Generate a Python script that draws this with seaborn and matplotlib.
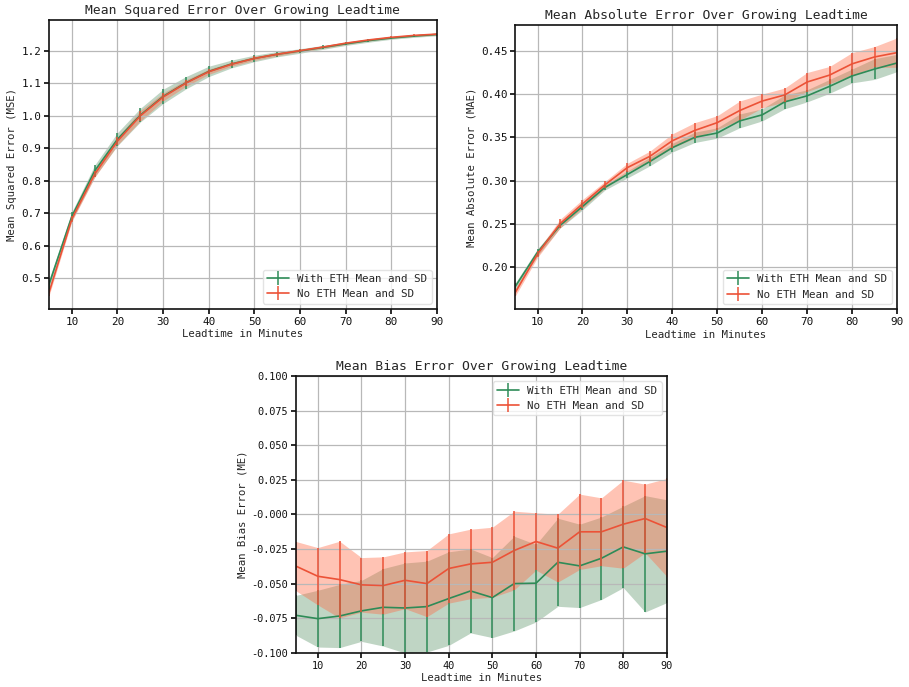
import numpy as np
import pandas as pd
import matplotlib
matplotlib.use("Agg")
import matplotlib.pyplot as plt
import seaborn as sns
from matplotlib.lines import Line2D
from matplotlib.ticker import FormatStrFormatter

leadtime = [5, 10, 15, 20, 25, 30, 35, 40, 45, 50, 55, 60, 65, 70, 75, 80, 85, 90]

mse_with_mean = [0.480, 0.690, 0.830, 0.928, 1.002, 1.060, 1.102, 1.137, 1.160, 1.177, 1.190, 1.200, 1.211, 1.222, 1.232, 1.240, 1.246, 1.251]
mse_with_sd = [0.015, 0.013, 0.018, 0.020, 0.021, 0.022, 0.019, 0.016, 0.012, 0.010, 0.008, 0.007, 0.006, 0.005, 0.005, 0.004, 0.004, 0.004]
mse_no_mean = [0.455, 0.682, 0.820, 0.922, 1.000, 1.058, 1.101, 1.136, 1.159, 1.177, 1.190, 1.201, 1.212, 1.224, 1.234, 1.242, 1.248, 1.252]
mse_no_sd = [0.010, 0.008, 0.010, 0.012, 0.016, 0.012, 0.010, 0.008, 0.006, 0.006, 0.005, 0.004, 0.004, 0.004, 0.003, 0.003, 0.003, 0.003]

mae_with_mean = [0.177, 0.217, 0.248, 0.270, 0.292, 0.307, 0.322, 0.338, 0.350, 0.355, 0.369, 0.376, 0.391, 0.398, 0.409, 0.421, 0.429, 0.436]
mae_with_sd = [0.004, 0.004, 0.003, 0.004, 0.003, 0.004, 0.005, 0.005, 0.006, 0.006, 0.008, 0.007, 0.008, 0.007, 0.008, 0.008, 0.012, 0.010]
mae_no_mean = [0.170, 0.215, 0.250, 0.273, 0.295, 0.315, 0.328, 0.346, 0.358, 0.367, 0.381, 0.392, 0.399, 0.414, 0.422, 0.435, 0.443, 0.448]
mae_no_sd = [0.004, 0.004, 0.005, 0.005, 0.004, 0.005, 0.006, 0.008, 0.009, 0.008, 0.011, 0.008, 0.008, 0.011, 0.010, 0.013, 0.012, 0.017]

me_with_mean = [-0.0728, -0.0752, -0.0733, -0.0696, -0.0670, -0.0675, -0.0665, -0.0607, -0.0552, -0.0600, -0.0499, -0.0496, -0.0345, -0.0371, -0.0316, -0.0234, -0.0284, -0.0265]
me_with_sd = [0.0144, 0.0205, 0.0228, 0.0220, 0.0280, 0.0325, 0.0328, 0.0338, 0.0303, 0.0289, 0.0342, 0.0280, 0.0318, 0.0301, 0.0298, 0.0294, 0.0420, 0.0371]
me_no_mean = [-0.0373, -0.0446, -0.0470, -0.0508, -0.0513, -0.0475, -0.0499, -0.0390, -0.0357, -0.0345, -0.0260, -0.0195, -0.0243, -0.0125, -0.0125, -0.0070, -0.0029, -0.0094]
me_no_sd = [0.0178, 0.0207, 0.0277, 0.0197, 0.0207, 0.0205, 0.0239, 0.0250, 0.0251, 0.0253, 0.0284, 0.0207, 0.0245, 0.0272, 0.0245, 0.0318, 0.0248, 0.0354]

labels = ["With ETH Mean and SD", "No ETH Mean and SD"]
titles = ["Mean Squared Error Over Growing Leadtime",
          "Mean Absolute Error Over Growing Leadtime",
          "Mean Bias Error Over Growing Leadtime"]
ylabels = ["Mean Squared Error (MSE)", "Mean Absolute Error (MAE)", "Mean Bias Error (ME)"]
xlabel = "Leadtime in Minutes"

GREEN = "#2e8b57"
RED = "#ec5237"
GREEN_FILL = "#3a7d4a"
RED_FILL = "#ff6a45"

sns.set_theme(style="whitegrid")
plt.rcParams.update({
    "font.family": ["DejaVu Sans Mono"],
    "axes.edgecolor": "#111111",
    "axes.linewidth": 1.2,
    "axes.axisbelow": "line",
    "grid.color": "#b8b8b8",
    "grid.linewidth": 0.9,
    "xtick.bottom": True,
    "ytick.left": True,
    "xtick.major.size": 3.5,
    "ytick.major.size": 3.5,
    "xtick.color": "#111111",
    "ytick.color": "#111111",
    "axes.unicode_minus": True,
})

fig = plt.figure(figsize=(9.09, 6.87), dpi=100)
ax1 = fig.add_axes([0.0539, 0.5502, 0.4268, 0.4207])
ax2 = fig.add_axes([0.5666, 0.5498, 0.4202, 0.4138])
ax3 = fig.add_axes([0.3256, 0.0495, 0.4081, 0.4032])

series = [
    (ax1, mse_with_mean, mse_with_sd, mse_no_mean, mse_no_sd, "lower right", 7.9),
    (ax2, mae_with_mean, mae_with_sd, mae_no_mean, mae_no_sd, "lower right", 7.9),
    (ax3, me_with_mean, me_with_sd, me_no_mean, me_no_sd, "upper right", 7.4),
]

x = np.array(leadtime)
for i, (ax, wm, ws, nm, ns, loc, tsize) in enumerate(series):
    wm, ws, nm, ns = map(np.array, (wm, ws, nm, ns))
    ax.fill_between(x, wm - ws, wm + ws, color=GREEN_FILL, alpha=0.32, lw=0, zorder=1)
    ax.fill_between(x, nm - ns, nm + ns, color=RED_FILL, alpha=0.4, lw=0, zorder=1)
    df = pd.DataFrame({"x": np.concatenate([x, x]),
                       "y": np.concatenate([wm, nm]),
                       "s": [labels[0]] * len(x) + [labels[1]] * len(x)})
    sns.lineplot(data=df, x="x", y="y", hue="s", palette=[GREEN, RED],
                 linewidth=1.2, ax=ax, legend=False, errorbar=None)
    ax.errorbar(x, wm, yerr=ws, fmt="none", ecolor=GREEN, elinewidth=1.1)
    ax.errorbar(x, nm, yerr=ns, fmt="none", ecolor=RED, elinewidth=1.1)
    ax.set_xlim(5, 90)
    ax.set_xticks(range(10, 91, 10))
    ax.set_title(titles[i], fontsize=9.4, pad=4)
    ax.set_xlabel(xlabel, fontsize=7.7, labelpad=2)
    ax.set_ylabel(ylabels[i], fontsize=7.7, labelpad=3)
    ax.tick_params(labelsize=tsize, pad=2)
    handles = [Line2D([], [], color=GREEN, lw=1.2, marker="|", markersize=10, markeredgewidth=1.1),
               Line2D([], [], color=RED, lw=1.2, marker="|", markersize=10, markeredgewidth=1.1)]
    ax.legend(handles, labels, loc=loc, fontsize=7.8, frameon=True, framealpha=0.8,
              edgecolor="#dddddd", fancybox=True, handlelength=2.0)
    for sp in ax.spines.values():
        sp.set_visible(True)
        sp.set_color("#111111")

ax1.set_yticks(np.arange(0.5, 1.21, 0.1))
ax1.yaxis.set_major_formatter(FormatStrFormatter("%.1f"))
ax2.set_yticks(np.arange(0.20, 0.451, 0.05))
ax2.yaxis.set_major_formatter(FormatStrFormatter("%.2f"))
ax3.set_ylim(-0.1, 0.1)
ax3.set_yticks(np.arange(-0.1, 0.1001, 0.025))
ax3.yaxis.set_major_formatter(FormatStrFormatter("%.3f"))

fig.savefig("out.png", dpi=100)
